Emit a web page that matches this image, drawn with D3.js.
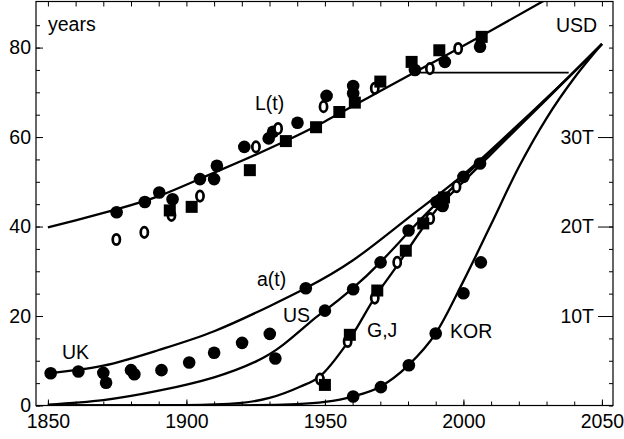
<!DOCTYPE html>
<html>
<head>
<meta charset="utf-8">
<script src="https://cdn.jsdelivr.net/npm/d3@7"></script>
<style>
  body { margin: 0; background: #fff; }
  svg text { font-family: Arial, "Liberation Sans", sans-serif; font-size: 19.5px; fill: #000; }
</style>
</head>
<body>
<svg id="chart" width="624" height="439"></svg>
<script>
// ---- data ----
// model curves (sampled)
var lCurveYears = [1850, 1860, 1875, 1890, 1905, 1920, 1935, 1950, 1970, 1990, 2010, 2030];
var lCurveVals  = [39.8, 41.4, 43.9, 46.8, 50.7, 54.7, 58.9, 63.5, 70.3, 77.0, 83.8, 90.8];

var aCurveYears = [1850, 1870, 1890, 1910, 1930, 1943, 1960, 1980, 2000, 2020, 2035, 2050];
var aCurveVals  = [7.2, 8.9, 12.4, 16.6, 22.2, 26.2, 32.4, 41.9, 51.6, 62.9, 71.6, 80.8];

var usCurveYears = [1850, 1870, 1890, 1910, 1925, 1935, 1945, 1950, 1960, 1970, 1980, 1990, 2000, 2010, 2030, 2050];
var usCurveVals  = [0.2, 1.2, 3.3, 6.3, 9.8, 13.6, 18.8, 21.2, 26.2, 32.0, 38.6, 45.0, 51.0, 56.8, 68.6, 80.8];

var gjCurveYears = [1850, 1900, 1920, 1930, 1941, 1948, 1958, 1969, 1975, 1985, 1990, 2000, 2010, 2030, 2050];
var gjCurveVals  = [0, 0.1, 0.6, 1.7, 4.2, 6.4, 13.9, 25.1, 30.3, 39.4, 43.6, 50.0, 56.2, 68.4, 80.8];

var korCurveYears = [1850, 1920, 1940, 1950, 1960, 1970, 1980, 1990, 2000, 2010, 2020, 2030, 2040, 2050];
var korCurveVals  = [0, 0.05, 0.3, 0.8, 2.0, 4.2, 8.9, 16.1, 27.8, 40.5, 53.3, 64.2, 73.2, 80.8];

var plateauYears = [1983.5, 2038];
var plateauVal = 74.4;

// life expectancy points
var lDotYears = [1874.8, 1885, 1890.2, 1895, 1904.9, 1910, 1911, 1920.9, 1929.7, 1931.3, 1940.1, 1950.6, 1960.2, 1960.2, 1982.5, 1993.3, 2006];
var lDotVals  = [43.2, 45.5, 47.6, 46.1, 50.6, 50.6, 53.6, 57.8, 59.7, 61.2, 63.2, 69.2, 71.4, 69.8, 75.0, 76.8, 80.2];
var lOpenYears = [1874.7, 1884.8, 1894.6, 1904.9, 1925.1, 1933.1, 1949.5, 1968, 1987.9, 1998.1];
var lOpenVals  = [37.1, 38.7, 42.5, 46.8, 57.8, 61.9, 66.8, 70.9, 75.3, 79.8];
var lSqYears = [1894, 1901.9, 1922.9, 1935.9, 1946.8, 1955.2, 1960.8, 1970, 1981.3, 1991.3, 2006.6];
var lSqVals  = [43.6, 44.4, 52.6, 59.1, 62.2, 65.6, 67.7, 72.4, 76.8, 79.4, 82.4];

// GDP points
var ukYears = [1851, 1861, 1870, 1871, 1880, 1881.2, 1891, 1901, 1910, 1920.1, 1930.1, 1932.1, 1943.1];
var ukVals  = [7.2, 7.6, 7.3, 5.1, 7.9, 7.0, 7.9, 9.6, 11.8, 14.0, 16.0, 10.5, 26.2];
var usYears = [1950, 1960.2, 1970.1, 1980.2, 1990.3, 1992.5, 2000, 2006];
var usVals  = [21.2, 26.0, 32.0, 39.1, 45.5, 44.6, 51.1, 54.1];
var gjOpenYears = [1948.2, 1958.2, 1968, 1976.1, 1988, 1997.5];
var gjOpenVals  = [5.9, 14.3, 24, 32, 41.8, 48.9];
var gjSqYears = [1950, 1959, 1968.9, 1979.2, 1985.5, 1993];
var gjSqVals  = [4.6, 15.8, 25.7, 34.6, 40.7, 46.5];
var korYears = [1960.2, 1970.2, 1980.3, 1990, 2000, 2006.3];
var korVals  = [2.0, 4.1, 9.0, 16.1, 25.1, 32.0];

var xTicks = d3.range(1850, 2051, 10);
var xLabels = [1850, 1900, 1950, 2000, 2050];
var yTicks = d3.range(0, 86, 5);
var yLabels = [0, 20, 40, 60, 80];
var usdTicks = d3.range(0, 43, 2.5);
var usdLabels = [10, 20, 30];

// ---- chart ----
var svg = d3.select("#chart");
var frameL = 36, frameR = 613, frameT = 1.5, frameB = 405.5;

var x = d3.scaleLinear().domain([1845.7, 2054]).range([frameL, frameR]);
var y = d3.scaleLinear().domain([0, 90.3]).range([frameB, frameT]);
var usd = d3.scaleLinear().domain([0, 45.15]).range([frameB, frameT]);

svg.append("clipPath").attr("id", "plotClip")
  .append("rect").attr("x", frameL).attr("y", frameT).attr("width", frameR - frameL).attr("height", frameB - frameT);

function zip(xs, ys) { return xs.map(function (d, i) { return [d, ys[i]]; }); }

function lineWith(curve) {
  return d3.line()
    .x(function (d) { return x(d[0]); })
    .y(function (d) { return y(d[1]); })
    .curve(curve);
}

var plot = svg.append("g").attr("clip-path", "url(#plotClip)");

[[lCurveYears, lCurveVals, d3.curveNatural], [aCurveYears, aCurveVals, d3.curveNatural],
 [usCurveYears, usCurveVals, d3.curveNatural], [gjCurveYears, gjCurveVals, d3.curveMonotoneX],
 [korCurveYears, korCurveVals, d3.curveMonotoneX]].forEach(function (c) {
  plot.append("path")
    .datum(zip(c[0], c[1]))
    .attr("d", lineWith(c[2]))
    .attr("fill", "none")
    .attr("stroke", "#000")
    .attr("stroke-width", 2.3);
});

plot.append("line")
  .attr("x1", x(plateauYears[0])).attr("x2", x(plateauYears[1]))
  .attr("y1", y(plateauVal)).attr("y2", y(plateauVal))
  .attr("stroke", "#000").attr("stroke-width", 1.6);

function dots(xs, ys) {
  plot.append("g").selectAll("circle")
    .data(zip(xs, ys)).enter().append("circle")
    .attr("cx", function (d) { return x(d[0]); })
    .attr("cy", function (d) { return y(d[1]); })
    .attr("r", 6.3)
    .attr("fill", "#000");
}
function opens(xs, ys) {
  plot.append("g").selectAll("ellipse")
    .data(zip(xs, ys)).enter().append("ellipse")
    .attr("cx", function (d) { return x(d[0]); })
    .attr("cy", function (d) { return y(d[1]); })
    .attr("rx", 3.6).attr("ry", 5.2)
    .attr("fill", "#fff")
    .attr("stroke", "#000")
    .attr("stroke-width", 2.7);
}
function squares(xs, ys) {
  plot.append("g").selectAll("rect")
    .data(zip(xs, ys)).enter().append("rect")
    .attr("x", function (d) { return x(d[0]) - 6; })
    .attr("y", function (d) { return y(d[1]) - 6; })
    .attr("width", 12).attr("height", 12)
    .attr("fill", "#000");
}

dots(lDotYears, lDotVals);
opens(lOpenYears, lOpenVals);
squares(lSqYears, lSqVals);
dots(ukYears, ukVals);
dots(usYears, usVals);
opens(gjOpenYears, gjOpenVals);
squares(gjSqYears, gjSqVals);
dots(korYears, korVals);

// ---- axes ----
function clean(g) {
  g.select(".domain").remove();
  g.selectAll("line").attr("stroke", "#000").attr("stroke-width", 1);
  g.selectAll("text").attr("font-size", null).attr("font-family", null);
}

// bottom
svg.append("g").attr("transform", "translate(0," + frameB + ")")
  .call(d3.axisBottom(x).tickValues(xTicks).tickSizeInner(-4).tickSizeOuter(0).tickFormat(""))
  .call(clean);
svg.append("g").attr("transform", "translate(0," + frameB + ")")
  .call(d3.axisBottom(x).tickValues(xLabels).tickSizeInner(-6).tickSizeOuter(0).tickPadding(9).tickFormat(d3.format("d")))
  .call(clean);
// top
svg.append("g").attr("transform", "translate(0," + frameT + ")")
  .call(d3.axisBottom(x).tickValues(xTicks).tickSizeInner(5).tickSizeOuter(0).tickFormat(""))
  .call(clean);
// left
svg.append("g").attr("transform", "translate(" + frameL + ",0)")
  .call(d3.axisLeft(y).tickValues(yTicks).tickSizeInner(-4).tickSizeOuter(0).tickFormat(""))
  .call(clean);
svg.append("g").attr("transform", "translate(" + frameL + ",0)")
  .call(d3.axisLeft(y).tickValues(yLabels).tickSizeInner(-7).tickSizeOuter(0).tickPadding(5).tickFormat(d3.format("d")))
  .call(clean);
// right (USD)
svg.append("g").attr("transform", "translate(" + frameR + ",0)")
  .call(d3.axisLeft(usd).tickValues(usdTicks).tickSizeInner(4).tickSizeOuter(0).tickFormat(""))
  .call(clean);
svg.append("g").attr("transform", "translate(" + frameR + ",0)")
  .call(d3.axisLeft(usd).tickValues(usdLabels).tickSizeInner(15).tickSizeOuter(0).tickPadding(4)
    .tickFormat(function (d) { return d + "T"; }))
  .call(clean);

// frame
svg.append("rect")
  .attr("x", frameL).attr("y", frameT).attr("width", frameR - frameL).attr("height", frameB - frameT)
  .attr("fill", "none").attr("stroke", "#000").attr("stroke-width", 1.2);

// ---- labels ----
var labels = [
  ["years", 48, 31],
  ["L(t)", 255, 110],
  ["a(t)", 257, 286],
  ["US", 283, 322],
  ["UK", 62, 359],
  ["G,J", 367, 337],
  ["KOR", 450, 338],
  ["USD", 556, 32]
];
svg.append("g").selectAll("text")
  .data(labels).enter().append("text")
  .attr("x", function (d) { return d[1]; })
  .attr("y", function (d) { return d[2]; })
  .text(function (d) { return d[0]; });
</script>
</body>
</html>
